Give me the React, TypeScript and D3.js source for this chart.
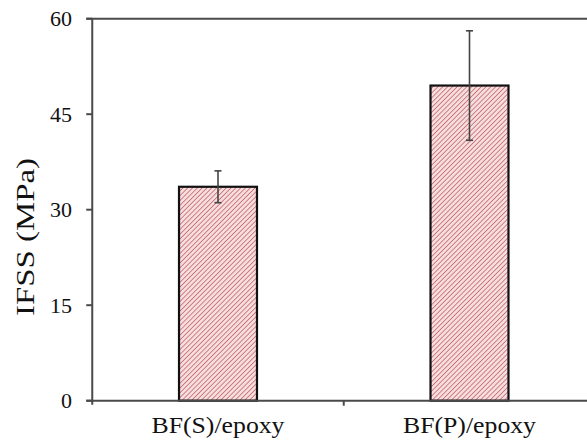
import React from "react";
import * as d3 from "d3";

const categories = ["BF(S)/epoxy", "BF(P)/epoxy"];
const values = [33.6, 49.5];
const errors = [2.5, 8.6];
const yTicks = [0, 15, 30, 45, 60];
const yLabel = "IFSS (MPa)";

const W = 587;
const H = 442;
const FONT = "'Liberation Serif', 'Times New Roman', serif";

export default function App() {
  const y = d3.scaleLinear().domain([0, 60]).range([400.7, 18.7]);
  const x = d3.scaleBand<string>().domain(categories).range([92.25, 595.25]).padding(0);
  const step = x.step();
  const barW = step * 0.31;
  const axisColor = "#4a4a4a";
  const left = x.range()[0];

  return (
    <svg width={W} height={H} style={{ position: "absolute", left: 0, top: 0, background: "#fff" }}>
      <defs>
        <pattern id="hatch" patternUnits="userSpaceOnUse" width={3.4} height={3.4} patternTransform="rotate(45)">
          <rect width={3.4} height={3.4} fill="#f6dede" />
          <line x1={0} y1={0} x2={0} y2={3.4} stroke="#c0575e" strokeWidth={1.4} />
        </pattern>
      </defs>

      {/* top line at max */}
      <line x1={left - 6} x2={W} y1={y(60)} y2={y(60)} stroke={axisColor} strokeWidth={2} />

      {/* bars */}
      {categories.map((c, i) => {
        const cx = (x(c) as number) + step / 2;
        return (
          <g key={c}>
            <rect
              x={cx - barW / 2}
              y={y(values[i])}
              width={barW}
              height={y(0) - y(values[i])}
              fill="url(#hatch)"
              stroke="#111"
              strokeWidth={2.2}
            />
            <line x1={cx} x2={cx} y1={y(values[i] + errors[i])} y2={y(values[i] - errors[i])} stroke="#444" strokeWidth={1.6} />
            <line x1={cx - 3.5} x2={cx + 3.5} y1={y(values[i] + errors[i])} y2={y(values[i] + errors[i])} stroke="#444" strokeWidth={1.6} />
            <line x1={cx - 3.5} x2={cx + 3.5} y1={y(values[i] - errors[i])} y2={y(values[i] - errors[i])} stroke="#444" strokeWidth={1.6} />
          </g>
        );
      })}

      {/* y axis */}
      <line x1={left} x2={left} y1={y(60)} y2={y(0) + 4} stroke={axisColor} strokeWidth={2} />
      {yTicks.map((t) => (
        <g key={t}>
          <line x1={left - 6} x2={left} y1={y(t)} y2={y(t)} stroke={axisColor} strokeWidth={2} />
          <text
            x={72}
            y={y(t)}
            textAnchor="end"
            dominantBaseline="central"
            fontFamily={FONT}
            fontSize={22}
            fill="#111"
          >
            {t}
          </text>
        </g>
      ))}

      {/* x axis */}
      <line x1={left - 6} x2={W} y1={y(0)} y2={y(0)} stroke={axisColor} strokeWidth={2} />
      {categories.map((c) => (
        <line key={"t" + c} x1={(x(c) as number) + step} x2={(x(c) as number) + step} y1={y(0)} y2={y(0) + 5} stroke={axisColor} strokeWidth={2} />
      ))}
      {categories.map((c) => (
        <text
          key={"l" + c}
          x={(x(c) as number) + step / 2}
          y={433}
          textAnchor="middle"
          fontFamily={FONT}
          fontSize={24}
          textLength={133}
          lengthAdjust="spacingAndGlyphs"
          fill="#111"
        >
          {c}
        </text>
      ))}

      {/* y label */}
      <text
        transform={`translate(34, 237) rotate(-90)`}
        textAnchor="middle"
        fontFamily={FONT}
        fontSize={25}
        textLength={158}
        lengthAdjust="spacingAndGlyphs"
        fill="#111"
      >
        {yLabel}
      </text>
    </svg>
  );
}
